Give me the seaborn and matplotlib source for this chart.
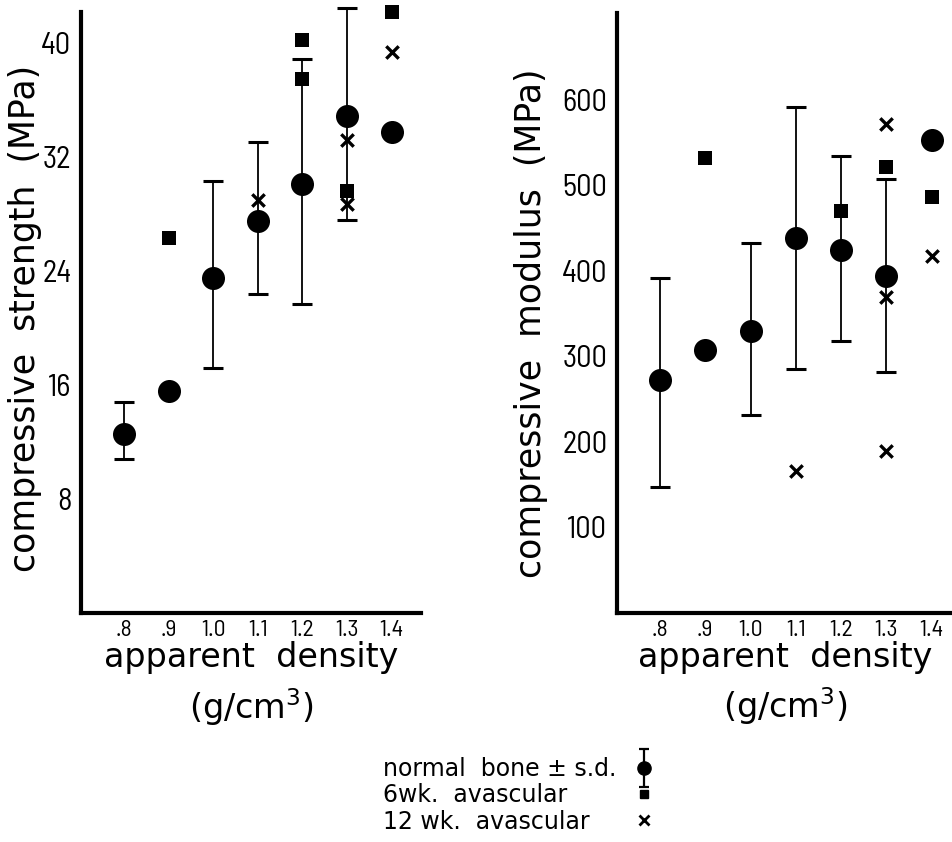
import numpy as np
import pandas as pd
import matplotlib
matplotlib.use("Agg")
import matplotlib.pyplot as plt
from matplotlib import font_manager
from matplotlib.lines import Line2D
from matplotlib.path import Path
from matplotlib.legend_handler import HandlerTuple
import seaborn as sns

# ---------------- data ----------------
density_ticks = [0.8, 0.9, 1.0, 1.1, 1.2, 1.3, 1.4]
density_tick_labels = [".8", ".9", "1.0", "1.1", "1.2", "1.3", "1.4"]
strength_ticks = [8, 16, 24, 32, 40]
modulus_ticks = [100, 200, 300, 400, 500, 600]

# normal bone (mean, +s.d. end, -s.d. end)
normal_density = [0.8, 0.9, 1.0, 1.1, 1.2, 1.3, 1.4]
strength_normal = [12.6, 15.6, 23.5, 27.5, 30.1, 34.9, 33.8]
strength_sd_high = [14.8, np.nan, 30.3, 33.1, 38.9, 42.5, np.nan]
strength_sd_low = [10.8, np.nan, 17.2, 22.4, 21.7, 27.6, np.nan]

modulus_normal = [272, 308, 330, 439, 424, 394, 553]
modulus_sd_high = [392, np.nan, 433, 592, 534, 507, np.nan]
modulus_sd_low = [147, np.nan, 231, 285, 318, 282, np.nan]

# 6 wk avascular
strength_6wk_density = [0.9, 1.2, 1.2, 1.3, 1.4]
strength_6wk = [26.3, 40.2, 37.5, 29.6, 42.2]
modulus_6wk_density = [0.9, 1.2, 1.3, 1.4]
modulus_6wk = [532, 470, 521, 486]

# 12 wk avascular
strength_12wk_density = [1.1, 1.3, 1.3, 1.4]
strength_12wk = [29.0, 33.2, 28.7, 39.4]
modulus_12wk_density = [1.1, 1.3, 1.3, 1.3, 1.4]
modulus_12wk = [166, 572, 370, 189, 417]

legend_labels = ["normal  bone \u00b1 s.d.", "6wk.  avascular", "12 wk.  avascular"]

# ---------------- style ----------------
sns.set_style("white")
plt.rcParams["font.family"] = ["DejaVu Sans"]
plt.rcParams["text.color"] = "black"
plt.rcParams["axes.labelcolor"] = "black"

installed = {f.name for f in font_manager.fontManager.ttflist}
tick_font = "DejaVu Sans"
for cand in ["Barlow Semi Condensed", "Archivo Narrow", "Liberation Sans Narrow"]:
    if cand in installed:
        tick_font = cand
        break
narrow = tick_font != "DejaVu Sans"
ytick_size = 22 if narrow else 17
xtick_size = 17 if narrow else 14

fig = plt.figure(figsize=(9.53, 8.42), dpi=100)
W, H = 953, 842
ax1 = fig.add_axes([81 / W, 1 - 613 / H, (421 - 81) / W, (613 - 12) / H])
ax2 = fig.add_axes([617 / W, 1 - 613 / H, (953 - 617) / W, (613 - 12.7) / H])


def draw_panel(ax, y_normal, y_hi, y_lo, x6, y6, x12, y12):
    df = pd.DataFrame({"d": normal_density, "y": y_normal, "hi": y_hi, "lo": y_lo})
    eb = df.dropna()
    ax.errorbar(eb["d"], eb["y"], yerr=[eb["y"] - eb["lo"], eb["hi"] - eb["y"]],
                fmt="none", ecolor="black", elinewidth=1.3, capsize=7.5,
                capthick=2.2, clip_on=False, zorder=2)
    sns.scatterplot(x=df["d"], y=df["y"], ax=ax, marker="o", s=275, color="black",
                    linewidth=0, clip_on=False, zorder=3, legend=False)
    sns.scatterplot(x=x6, y=y6, ax=ax, marker="s", s=115, color="black",
                    linewidth=0, clip_on=False, zorder=4, legend=False)
    sns.scatterplot(x=x12, y=y12, ax=ax, marker="x", s=80, color="black",
                    linewidth=2.4, clip_on=False, zorder=4, legend=False)
    for side in ["top", "right"]:
        ax.spines[side].set_visible(False)
    for side in ["left", "bottom"]:
        ax.spines[side].set_linewidth(3)
        ax.spines[side].set_color("black")
    ax.set_xticks(density_ticks)
    ax.set_xticklabels(density_tick_labels, fontfamily=tick_font, fontsize=xtick_size)
    ax.tick_params(axis="x", direction="in", length=11, width=2.2, pad=5, colors="black")
    ax.tick_params(axis="y", direction="in", length=12, width=2.2, pad=7,
                   colors="black")
    ax.set_xlabel("apparent  density\n(g/cm$^3$)", fontsize=24, linespacing=1.35,
                  va="top", color="black")
    ax.xaxis.set_label_coords(0.5, -0.047)
    ax.grid(False)


draw_panel(ax1, strength_normal, strength_sd_high, strength_sd_low,
           strength_6wk_density, strength_6wk, strength_12wk_density, strength_12wk)
ax1.set_xlim(0.703, 1.466)
ax1.set_ylim(0, 42.2)
ax1.set_yticks(strength_ticks)
ax1.set_yticklabels([str(t) for t in strength_ticks], fontfamily=tick_font, fontsize=ytick_size)
ax1.set_ylabel("compressive  strength  (MPa)", fontsize=25, color="black")
ax1.yaxis.set_label_coords(-0.115, 0.49)

draw_panel(ax2, modulus_normal, modulus_sd_high, modulus_sd_low,
           modulus_6wk_density, modulus_6wk, modulus_12wk_density, modulus_12wk)
ax2.set_xlim(0.705, 1.447)
ax2.set_ylim(0, 702)
ax2.set_yticks(modulus_ticks)
ax2.set_yticklabels([str(t) for t in modulus_ticks], fontfamily=tick_font, fontsize=ytick_size)
ax2.set_ylabel("compressive  modulus  (MPa)", fontsize=25, color="black")
ax2.yaxis.set_label_coords(-0.205, 0.483)

# ---------------- legend ----------------
bar_path = Path([(-0.14, 0.5), (0.14, 0.5), (0, 0.5), (0, -0.5), (-0.14, -0.5), (0.14, -0.5)],
                [Path.MOVETO, Path.LINETO, Path.MOVETO, Path.LINETO, Path.MOVETO, Path.LINETO])
h_bar = Line2D([], [], linestyle="none", marker=bar_path, markersize=27,
               markeredgewidth=1.6, color="black")
h_circle = Line2D([], [], linestyle="none", marker="o", markersize=9.5, color="black")
h_square = Line2D([], [], linestyle="none", marker="s", markersize=6, color="black")
h_x = Line2D([], [], linestyle="none", marker="x", markersize=6.5,
             markeredgewidth=2, color="black")
blank = [Line2D([], [], linestyle="none") for _ in legend_labels]

leg_y = 1 - 757 / H
fs_leg = 17
fig.legend(blank, legend_labels, loc="upper left", bbox_to_anchor=(383 / W, leg_y),
           frameon=False, fontsize=fs_leg, handlelength=0, handletextpad=0,
           borderpad=0, borderaxespad=0, labelspacing=0.1, labelcolor="black")
fig.legend([(h_bar, h_circle), h_square, h_x], ["", "", ""], loc="upper left",
           bbox_to_anchor=((643 - 11) / W, leg_y), frameon=False, fontsize=fs_leg,
           handlelength=1.0, handletextpad=0, borderpad=0, borderaxespad=0,
           labelspacing=0.1, handler_map={tuple: HandlerTuple(ndivide=1, pad=0)})

fig.savefig("out.png", dpi=100)
